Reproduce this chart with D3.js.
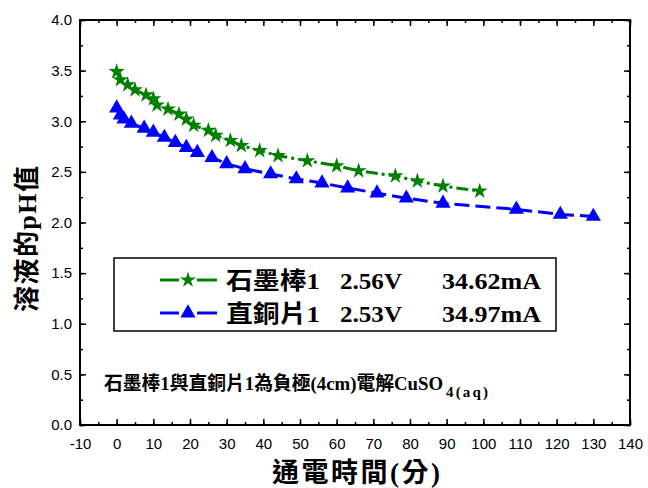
<!DOCTYPE html>
<html>
<head>
<meta charset="utf-8">
<script src="https://cdn.jsdelivr.net/npm/d3@7"></script>
<style>
  body { margin: 0; background: #fff; }
  svg { display: block; }
  text { white-space: pre; }
</style>
</head>
<body>
<svg></svg>
<script>
 // time (min) and pH readings for the two electrodes
 let graphiteTime = [0, 1, 3, 5, 8, 10, 11, 14, 17, 19, 21, 25, 27, 31, 34, 39, 44, 52, 60, 66, 76, 82, 89, 99];
 let graphitePH = [3.49, 3.41, 3.36, 3.31, 3.26, 3.22, 3.16, 3.12, 3.07, 3.02, 2.96, 2.91, 2.86, 2.81, 2.76, 2.71, 2.66, 2.61, 2.56, 2.51, 2.46, 2.41, 2.36, 2.31];
 let copperTime = [0, 1, 2, 4, 7.5, 10, 13, 16, 19, 22, 26, 30, 35, 42, 49, 56, 63, 71, 79, 89, 109, 121, 130];
 let copperPH = [3.13, 3.06, 3.02, 2.98, 2.93, 2.89, 2.84, 2.79, 2.74, 2.69, 2.64, 2.58, 2.53, 2.48, 2.43, 2.39, 2.34, 2.29, 2.24, 2.19, 2.13, 2.08, 2.06];

 let seriesNames = [['石墨棒1', '2.56V', '34.62mA'], ['直銅片1', '2.53V', '34.97mA']];
 let xTicks = [-10, 0, 10, 20, 30, 40, 50, 60, 70, 80, 90, 100, 110, 120, 130, 140];
 let yTicks = [0, 0.5, 1, 1.5, 2, 2.5, 3, 3.5, 4];

 let width = 648;
 let height = 488;
 let plotLeft = 80, plotRight = 630, plotTop = 20, plotBottom = 425;

 let svg = d3.select('svg').attr('width', width).attr('height', height);

 let xScale = d3.scaleLinear().domain([-10, 140]).range([plotLeft, plotRight]);
 let yScale = d3.scaleLinear().domain([0, 4]).range([plotBottom, plotTop]);

 let sansFont = '"Liberation Sans", Arial, sans-serif';
 let cjkFont = '"Liberation Serif", "Noto Sans CJK TC", serif';

 let drawAxes = () => {
  let xMinor = d3.range(-10, 141, 5);
  let yMinor = d3.range(0, 4.01, 0.25);

  let addAxis = (axis, tx, ty) => {
   let g = svg.append('g').attr('transform', `translate(${tx}, ${ty})`).call(axis);
   g.select('.domain').remove();
   g.selectAll('line').attr('stroke', '#000').attr('stroke-width', 1.5);
   return g;
  };

  // minor ticks on all sides
  addAxis(d3.axisBottom(xScale).tickValues(xMinor).tickSize(-3).tickFormat(''), 0, plotBottom);
  addAxis(d3.axisTop(xScale).tickValues(xMinor).tickSize(-3).tickFormat(''), 0, plotTop);
  addAxis(d3.axisLeft(yScale).tickValues(yMinor).tickSize(-3).tickFormat(''), plotLeft, 0);
  addAxis(d3.axisRight(yScale).tickValues(yMinor).tickSize(-3).tickFormat(''), plotRight, 0);

  // major ticks
  let xb = addAxis(d3.axisBottom(xScale).tickValues(xTicks).tickSize(-6).tickPadding(10).tickFormat(d => String(d)), 0, plotBottom);
  xb.selectAll('text').attr('font-family', sansFont).attr('font-size', 15).attr('fill', '#000').attr('dy', '0.95em');
  addAxis(d3.axisTop(xScale).tickValues(xTicks).tickSize(-6).tickFormat(''), 0, plotTop);
  let yl = addAxis(d3.axisLeft(yScale).tickValues(yTicks).tickSize(-6).tickPadding(8).tickFormat(d3.format('.1f')), plotLeft, 0);
  yl.selectAll('text').attr('font-family', sansFont).attr('font-size', 15).attr('fill', '#000');
  addAxis(d3.axisRight(yScale).tickValues(yTicks).tickSize(-6).tickFormat(''), plotRight, 0);

  svg.append('rect')
   .attr('x', plotLeft).attr('y', plotTop)
   .attr('width', plotRight - plotLeft).attr('height', plotBottom - plotTop)
   .attr('fill', 'none').attr('stroke', '#000').attr('stroke-width', 2);

  svg.append('text')
   .attr('x', 356).attr('y', 482)
   .attr('text-anchor', 'middle')
   .attr('font-family', cjkFont).attr('font-size', 27).attr('font-weight', 'bold')
   .attr('textLength', 168).attr('lengthAdjust', 'spacing')
   .text('通電時間(分)');

  svg.append('text')
   .attr('transform', 'translate(36, 239) rotate(-90)')
   .attr('text-anchor', 'middle')
   .attr('font-family', cjkFont).attr('font-size', 26).attr('font-weight', 'bold')
   .attr('textLength', 146).attr('lengthAdjust', 'spacing')
   .text('溶液的pH值');
 };

 let drawSeries = (xs, ys, color, dash, symbol, size) => {
  let pts = xs.map((x, i) => [x, ys[i]]);
  let line = d3.line().x(d => xScale(d[0])).y(d => yScale(d[1]));
  svg.append('path')
   .datum(pts)
   .attr('d', line)
   .attr('fill', 'none')
   .attr('stroke', color)
   .attr('stroke-width', 3)
   .attr('stroke-dasharray', dash);
  svg.append('g').selectAll('path')
   .data(pts)
   .enter()
   .append('path')
   .attr('d', d3.symbol().type(symbol).size(size))
   .attr('transform', d => `translate(${xScale(d[0])}, ${yScale(d[1])})`)
   .attr('fill', color);
 };

 let drawLegend = () => {
  svg.append('rect')
   .attr('x', 114).attr('y', 258).attr('width', 442).attr('height', 73)
   .attr('fill', '#fff').attr('stroke', '#000').attr('stroke-width', 1.5);
  let items = [
   { name: seriesNames[0], color: 'green', symbol: d3.symbolStar, size: 80, y: 280 },
   { name: seriesNames[1], color: 'blue', symbol: d3.symbolTriangle, size: 100, y: 313 }
  ];
  // column starts and widths of the three parts of each legend label
  let cols = [[226, 94], [340, 62], [442, 99]];
  items.forEach(item => {
   [[160, 179], [197, 217]].forEach(seg => {
    svg.append('line')
     .attr('x1', seg[0]).attr('x2', seg[1]).attr('y1', item.y).attr('y2', item.y)
     .attr('stroke', item.color).attr('stroke-width', 3);
   });
   svg.append('path')
    .attr('d', d3.symbol().type(item.symbol).size(item.size))
    .attr('transform', `translate(188, ${item.y})`)
    .attr('fill', item.color);
   let t = svg.append('text')
    .attr('y', item.y + 9)
    .attr('font-family', cjkFont).attr('font-size', 24).attr('font-weight', 'bold');
   item.name.forEach((part, i) => {
    t.append('tspan')
     .attr('x', cols[i][0])
     .attr('textLength', cols[i][1]).attr('lengthAdjust', 'spacingAndGlyphs')
     .text(part);
   });
  });
 };

 let drawNote = () => {
  svg.append('text')
   .attr('x', 104).attr('y', 390)
   .attr('font-family', cjkFont).attr('font-size', 19).attr('font-weight', 'bold')
   .attr('textLength', 339).attr('lengthAdjust', 'spacingAndGlyphs')
   .text('石墨棒1與直銅片1為負極(4cm)電解CuSO');
  svg.append('text')
   .attr('x', 446).attr('y', 397)
   .attr('font-family', cjkFont).attr('font-size', 15).attr('font-weight', 'bold')
   .attr('textLength', 42).attr('lengthAdjust', 'spacing')
   .text('4(aq)');
 };

 drawAxes();
 drawSeries(copperTime, copperPH, 'blue', '15,6', d3.symbolTriangle, 100);
 drawSeries(graphiteTime, graphitePH, 'green', '12,4,3,4', d3.symbolStar, 80);
 drawLegend();
 drawNote();
</script>
</body>
</html>
